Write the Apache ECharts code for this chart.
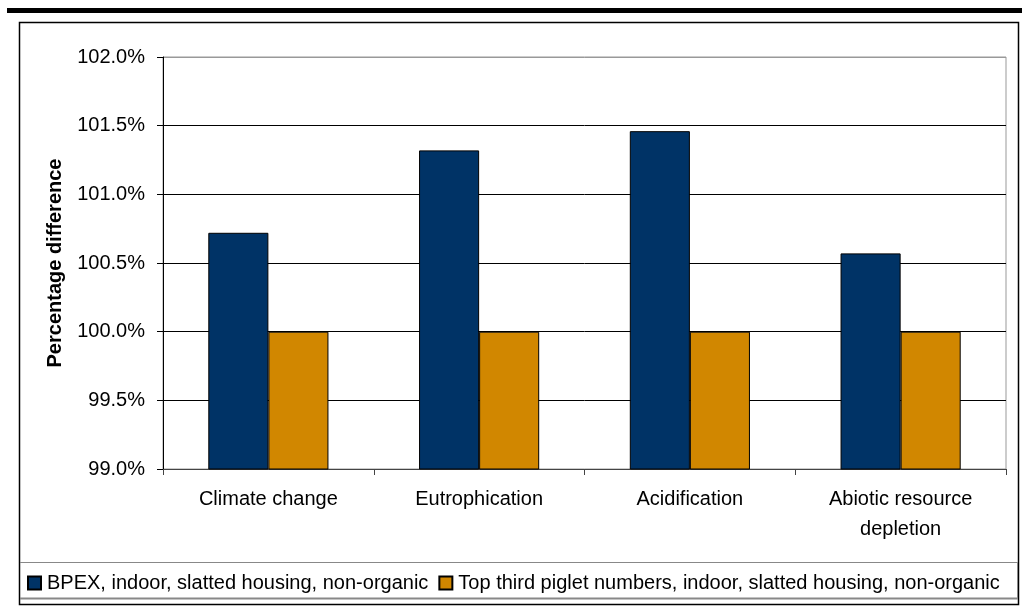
<!DOCTYPE html>
<html>
<head>
<meta charset="utf-8">
<script src="https://cdn.jsdelivr.net/npm/echarts@6/dist/echarts.min.js"></script>
<style>
  html, body { margin: 0; padding: 0; background: #fff; }
  #chart { width: 1022px; height: 614px; }
</style>
</head>
<body>
<div id="chart"></div>
<script>
// Impact categories and relative results (% of the reference system)
const categories = ['Climate change', 'Eutrophication', 'Acidification', 'Abiotic resource\ndepletion'];
const seriesNames = [
  'BPEX, indoor, slatted housing, non-organic',
  'Top third piglet numbers, indoor, slatted housing, non-organic'
];
const bpexValues = [100.72, 101.32, 101.46, 100.57];
const topThirdValues = [100.0, 100.0, 100.0, 100.0];
const yMin = 99.0, yMax = 102.0, yStep = 0.5;

const FONT = '"Liberation Sans", Arial, sans-serif';
const chart = echarts.init(document.getElementById('chart'), null, { renderer: 'canvas' });

chart.setOption({
  backgroundColor: '#fff',
  animation: false,
  textStyle: { fontFamily: FONT },
  grid: {
    left: 163, top: 57, right: 16, bottom: 145,
    show: true, borderColor: '#999', borderWidth: 1, backgroundColor: 'transparent'
  },
  legend: {
    left: 27, top: 573, padding: 0,
    itemWidth: 13, itemHeight: 13, itemGap: 10,
    icon: 'rect',
    textStyle: { fontFamily: FONT, fontSize: 20, color: '#000', padding: [0, 0, 0, 1] },
    data: seriesNames
  },
  xAxis: {
    type: 'category',
    data: categories,
    axisLine: { lineStyle: { color: '#444', width: 1 } },
    axisTick: { show: true, length: 6, lineStyle: { color: '#444' } },
    axisLabel: { fontFamily: FONT, fontSize: 20, color: '#000', margin: 15, lineHeight: 30 }
  },
  yAxis: {
    type: 'value',
    min: yMin, max: yMax, interval: yStep,
    name: 'Percentage difference',
    nameLocation: 'middle', nameRotate: 90, nameGap: 98,
    nameTextStyle: { fontFamily: FONT, fontSize: 20, fontWeight: 'bold', color: '#000' },
    axisLine: { show: true, lineStyle: { color: '#000', width: 1 } },
    axisTick: { show: true, length: 6, lineStyle: { color: '#000' } },
    axisLabel: {
      fontFamily: FONT, fontSize: 20, color: '#000', margin: 18,
      formatter: v => v.toFixed(1) + '%'
    },
    splitLine: {
      lineStyle: { color: ['#555', '#000', '#000', '#000', '#000', '#000', '#999'], width: 1 }
    }
  },
  series: [
    {
      name: seriesNames[0], type: 'bar', data: bpexValues,
      barGap: '0%', barCategoryGap: '43%',
      itemStyle: { color: '#003366', borderColor: '#000', borderWidth: 1 }
    },
    {
      name: seriesNames[1], type: 'bar', data: topThirdValues,
      barGap: '0%', barCategoryGap: '43%',
      itemStyle: { color: '#D18700', borderColor: '#000', borderWidth: 1 }
    }
  ],
  graphic: [
    // heavy rule above the figure
    { type: 'rect', shape: { x: 7, y: 8, width: 1015, height: 5 }, style: { fill: '#000' }, silent: true },
    // chart frame
    { type: 'rect', shape: { x: 19.5, y: 22.5, width: 999, height: 582 },
      style: { fill: 'none', stroke: '#000', lineWidth: 1.5 }, silent: true, z: 100 },
    // legend box rules
    { type: 'line', shape: { x1: 20, y1: 562.5, x2: 1018, y2: 562.5 },
      style: { stroke: '#888', lineWidth: 1 }, silent: true, z: 100 },
    { type: 'line', shape: { x1: 20, y1: 598.5, x2: 1018, y2: 598.5 },
      style: { stroke: '#888', lineWidth: 2 }, silent: true, z: 100 },
    { type: 'line', shape: { x1: 1017.5, y1: 562.5, x2: 1017.5, y2: 599 },
      style: { stroke: '#888', lineWidth: 1 }, silent: true, z: 100 }
  ]
});
</script>
</body>
</html>
